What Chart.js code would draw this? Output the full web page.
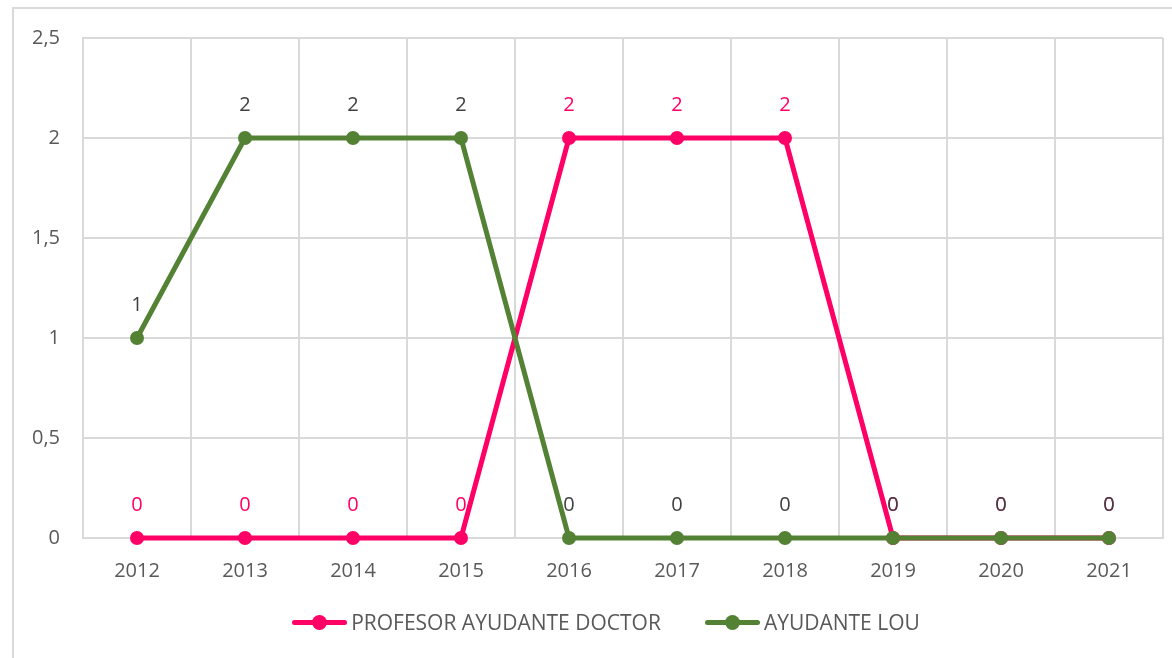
<!DOCTYPE html>
<html>
<head>
<meta charset="utf-8">
<script src="https://cdn.jsdelivr.net/npm/chart.js@4/dist/chart.umd.min.js"></script>
<style>
    body { margin: 0; background: #fff; font-family: "Open Sans", sans-serif; }
    #frame { position: absolute; left: 12px; top: 7px; width: 1200px; height: 700px; border: 2px solid #d9d9d9; }
    #wrap { position: absolute; left: 0; top: 0; width: 1172px; height: 658px; }
    #legend { position: absolute; left: 0; top: 607px; width: 1172px; box-sizing: border-box; padding-left: 40px;
              display: flex; justify-content: center; gap: 44px; font-size: 21px; line-height: 30px; color: #595959; }
    .item { display: flex; align-items: center; white-space: nowrap; }
    .mark { position: relative; width: 55px; height: 5px; border-radius: 3px; margin-right: 4px; }
    .mark span { position: absolute; left: 20px; top: -5px; width: 15px; height: 15px; border-radius: 50%; }
</style>
</head>
<body>
<div id="frame"></div>
<div id="wrap"><canvas id="lineChart"></canvas></div>
<div id="legend"></div>
<script>
const years = ['2012', '2013', '2014', '2015', '2016', '2017', '2018', '2019', '2020', '2021'];
const profesorAyudanteDoctor = [0, 0, 0, 0, 2, 2, 2, 0, 0, 0];
const ayudanteLou = [1, 2, 2, 2, 0, 0, 0, 0, 0, 0];
const yTicks = [0, 0.5, 1, 1.5, 2, 2.5];

const pink = '#FF0066';
const green = '#548235';
const FONT = '"Open Sans", sans-serif';

// etiquetas de datos encima de cada punto
const dataLabels = {
    id: 'dataLabels',
    afterDatasetsDraw(chart) {
        const ctx = chart.ctx;
        ctx.save();
        ctx.font = '20px ' + FONT;
        ctx.textAlign = 'center';
        ctx.textBaseline = 'middle';
        chart.data.datasets.forEach((ds, i) => {
            const meta = chart.getDatasetMeta(i);
            ctx.fillStyle = ds.labelColor;
            meta.data.forEach((pt, j) => {
                ctx.fillText(String(ds.data[j]), pt.x, pt.y - 33);
            });
        });
        ctx.restore();
    }
};

// leyenda en HTML (línea con punto + texto)
const htmlLegend = {
    id: 'htmlLegend',
    afterUpdate(chart) {
        const box = document.getElementById('legend');
        box.innerHTML = '';
        chart.data.datasets.forEach(ds => {
            const item = document.createElement('div');
            item.className = 'item';
            const mark = document.createElement('div');
            mark.className = 'mark';
            mark.style.background = ds.borderColor;
            const dot = document.createElement('span');
            dot.style.background = ds.borderColor;
            mark.appendChild(dot);
            const text = document.createElement('span');
            text.textContent = ds.label;
            item.appendChild(mark);
            item.appendChild(text);
            box.appendChild(item);
        });
    }
};

const ctx = document.getElementById('lineChart').getContext('2d');
new Chart(ctx, {
    type: 'line',
    data: {
        labels: years,
        datasets: [
            {
                label: 'PROFESOR AYUDANTE DOCTOR',
                data: profesorAyudanteDoctor,
                borderColor: pink,
                backgroundColor: pink,
                borderWidth: 5,
                pointRadius: 7,
                pointBorderWidth: 0,
                clip: false,
                labelColor: pink,
                order: 1
            },
            {
                label: 'AYUDANTE LOU',
                data: ayudanteLou,
                borderColor: green,
                backgroundColor: green,
                borderWidth: 5,
                pointRadius: 7,
                pointBorderWidth: 0,
                clip: false,
                labelColor: '#404040',
                order: 0
            }
        ]
    },
    options: {
        responsive: true,
        maintainAspectRatio: false,
        animation: false,
        layout: { padding: { left: 0, right: 9, top: 38, bottom: 55 } },
        plugins: {
            legend: { display: false },
            tooltip: { enabled: false }
        },
        scales: {
            x: {
                offset: true,
                grid: { offset: true, color: '#d9d9d9', lineWidth: 2, drawTicks: false },
                border: { color: '#d9d9d9', width: 2 },
                ticks: { color: '#595959', padding: 21, font: { family: FONT, size: 20 } },
                afterFit(scale) { scale.height = 65; }
            },
            y: {
                min: 0,
                max: 2.5,
                grid: { color: '#d9d9d9', lineWidth: 2, drawTicks: false },
                border: { color: '#d9d9d9', width: 2 },
                afterBuildTicks(scale) { scale.ticks = yTicks.map(v => ({ value: v })); },
                ticks: {
                    color: '#595959',
                    padding: 23,
                    font: { family: FONT, size: 20 },
                    callback: v => String(v).replace('.', ',')
                },
                afterFit(scale) { scale.width = 83; }
            }
        }
    },
    plugins: [dataLabels, htmlLegend]
});
</script>
</body>
</html>
